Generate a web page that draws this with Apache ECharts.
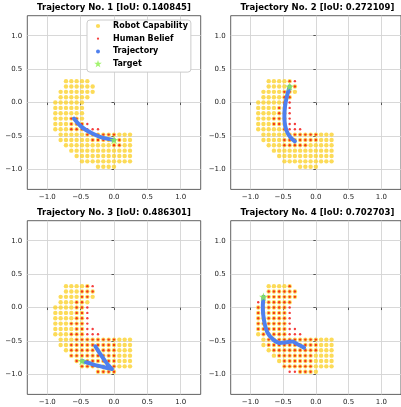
<!DOCTYPE html>
<html>
<head>
<meta charset="utf-8">
<script src="https://cdn.jsdelivr.net/npm/echarts@6/dist/echarts.min.js"></script>
<style>
html, body { margin: 0; padding: 0; background: #fff; }
#main { width: 401px; height: 407px; }
</style>
</head>
<body>
<div id="main"></div>
<script>
// grid of sampled cells: first column x, first row y, spacing
var cellX0 = -0.88, cellY0 = 0.32, cellStep = 0.08;
var tickVals = [-1, -0.5, 0, 0.5, 1];
var titles = [
    'Trajectory No. 1 [IoU: 0.140845]',
    'Trajectory No. 2 [IoU: 0.272109]',
    'Trajectory No. 3 [IoU: 0.486301]',
    'Trajectory No. 4 [IoU: 0.702703]'
];

// robot capability, same for all plots (rows top->bottom, '#' = point)
var robotRows = [
    '..#####........',
    '..######.......',
    '.#######.......',
    '.######........',
    '######.........',
    '######.........',
    '######.........',
    '######.........',
    '######.........',
    '######.........',
    '.##############',
    '.##############',
    '..#############',
    '...############',
    '....###########',
    '.....##########',
    '........####...'
];

// human belief for each trajectory
var beliefRows1 = [
    '...............',
    '...............',
    '...............',
    '...............',
    '...............',
    '...............',
    '...............',
    '...##..........',
    '...####........',
    '...######......',
    '......######...',
    '.......######..',
    '...........##..'
];
var beliefRows2 = [
    '......##.......',
    '......##.......',
    '.....##........',
    '.....##........',
    '.....##........',
    '....###........',
    '....###........',
    '...####........',
    '...#####.......',
    '.....####......',
    '......######...',
    '.....#######...',
    '.....#####.....'
];
var beliefRows3 = [
    '......##.......',
    '.....###.......',
    '.....##........',
    '....##.........',
    '....###........',
    '....###........',
    '....###........',
    '...####........',
    '....####.......',
    '...######......',
    '....########...',
    '...#########...',
    '...#########...',
    '...#########...',
    '....########...',
    '.....#######...',
    '........####...'
];
var beliefRows4 = [
    '......#........',
    '..######.......',
    '.#######.......',
    '#######........',
    '#######........',
    '#######........',
    '#######........',
    '#######........',
    '########.......',
    '.########......',
    '..##########...',
    '..##########...',
    '...#########...',
    '....#######....',
    '.....######....',
    '.....######....',
    '......#####....'
];

var trajectory1 = [[-0.60, -0.24], [-0.55, -0.30], [-0.49, -0.36], [-0.42, -0.41], [-0.33, -0.46], [-0.22, -0.51], [-0.11, -0.54], [0.0, -0.56]];
var trajectory2 = [[-0.40, 0.24], [-0.44, 0.10], [-0.47, -0.05], [-0.48, -0.20], [-0.47, -0.34], [-0.43, -0.46], [-0.38, -0.53], [-0.32, -0.58]];
var trajectory3 = [[-0.28, -0.58], [-0.21, -0.69], [-0.14, -0.79], [-0.07, -0.88], [-0.03, -0.92], [-0.12, -0.90], [-0.25, -0.87], [-0.38, -0.83], [-0.48, -0.80]];
var trajectory4 = [[-0.80, 0.16], [-0.81, 0.0], [-0.79, -0.20], [-0.74, -0.37], [-0.65, -0.48], [-0.55, -0.53], [-0.45, -0.52], [-0.36, -0.51], [-0.28, -0.55], [-0.18, -0.60]];

var targets = [[0.0, -0.56], [-0.40, 0.24], [-0.48, -0.80], [-0.80, 0.16]];

var chart = echarts.init(document.getElementById('main'), null, {renderer: 'canvas'});
var font = 'DejaVu Sans';
var colYellow = '#fbd22e', colRed = '#f20d0d', colBlue = '#4f80ee', colGreen = '#8cf04c';

function maskToPoints(rows) {
    var pts = [];
    for (var j = 0; j < rows.length; j++) {
        for (var k = 0; k < rows[j].length; k++) {
            if (rows[j].charAt(k) === '#') {
                pts.push([+(cellX0 + k * cellStep).toFixed(2), +(cellY0 - j * cellStep).toFixed(2)]);
            }
        }
    }
    return pts;
}
function starPath(cx, cy, R, r) {
    var s = '';
    for (var i = 0; i < 10; i++) {
        var a = -Math.PI / 2 + i * Math.PI / 5;
        var rad = i % 2 === 0 ? R : r;
        s += (i === 0 ? 'M' : 'L') + (cx + rad * Math.cos(a)).toFixed(2) + ',' + (cy + rad * Math.sin(a)).toFixed(2);
    }
    return s + 'Z';
}
// legend icons drawn inside a fixed 40x24 box so each keeps its own size
function dotIcon(r) {
    return 'path://M0,0M40,24M' + (20 - r) + ',12A' + r + ',' + r + ',0,1,1,' + (20 + r) + ',12A' + r + ',' + r + ',0,1,1,' + (20 - r) + ',12Z';
}

var beliefs = [beliefRows1, beliefRows2, beliefRows3, beliefRows4];
var trajectories = [trajectory1, trajectory2, trajectory3, trajectory4];
var robotPts = maskToPoints(robotRows);

var plotLeft = [27.3, 230.7, 27.3, 230.7];
var plotTop = [15.7, 15.7, 220.7, 220.7];
var plotW = 173.4, plotH = 173.7;

var grids = [], xAxes = [], yAxes = [], series = [], titleArr = [];
function fmt(v) {
    var s = Math.abs(v).toFixed(1);
    return v < 0 ? '\u2212' + s : s;
}
for (var i = 0; i < 4; i++) {
    grids.push({
        left: plotLeft[i], top: plotTop[i], width: plotW, height: plotH,
        show: true, borderColor: '#3a3a3a', borderWidth: 0.8, backgroundColor: '#fff'
    });
    titleArr.push({
        text: titles[i], left: plotLeft[i] + plotW / 2, top: plotTop[i] - 12.5,
        textAlign: 'center', padding: 0,
        textStyle: {fontFamily: font, fontSize: 8.5, fontWeight: 'bold', color: '#000'}
    });
    var axisBase = {
        gridIndex: i, type: 'value', min: -1.3, max: 1.3,
        axisLine: {show: false},
        axisTick: {show: true, customValues: tickVals, length: 2.5, lineStyle: {color: '#333', width: 0.8}},
        axisLabel: {customValues: tickVals, formatter: fmt, fontFamily: font, fontSize: 7, color: '#222'},
        splitLine: {show: true, lineStyle: {color: '#d4d4d4', width: 0.9}}
    };
    var xa = echarts.util.merge({}, axisBase, true);
    xa.axisLabel.margin = 4.5;
    xa.axisTick.customValues = tickVals;
    xa.axisLabel.customValues = tickVals;
    xAxes.push(xa);
    var ya = echarts.util.merge({}, axisBase, true);
    ya.axisLabel.margin = 5;
    ya.axisTick.customValues = tickVals;
    ya.axisLabel.customValues = tickVals;
    yAxes.push(ya);

    series.push({
        name: 'Robot Capability', type: 'scatter', xAxisIndex: i, yAxisIndex: i,
        data: robotPts, symbol: 'circle', symbolSize: 4.4, silent: true, z: 2,
        itemStyle: {color: colYellow}
    });
    series.push({
        name: 'Human Belief', type: 'scatter', xAxisIndex: i, yAxisIndex: i,
        data: maskToPoints(beliefs[i]), symbol: 'circle', symbolSize: 2.4, silent: true, z: 3,
        itemStyle: {color: colRed}
    });
    series.push({
        name: 'Trajectory', type: 'line', xAxisIndex: i, yAxisIndex: i,
        data: trajectories[i], showSymbol: false, smooth: 0.25, silent: true, z: 4,
        itemStyle: {color: colBlue},
        lineStyle: {color: colBlue, width: 4, cap: 'round', join: 'round'}
    });
    series.push({
        name: 'Target', type: 'scatter', xAxisIndex: i, yAxisIndex: i,
        data: [targets[i]], symbol: 'path://' + starPath(10, 10, 10, 3.8), symbolKeepAspect: true,
        symbolSize: 9, silent: true, z: 10, itemStyle: {color: colGreen}
    });
}

var option = {
    animation: false,
    backgroundColor: '#fff',
    title: titleArr,
    grid: grids,
    xAxis: xAxes,
    yAxis: yAxes,
    legend: {
        left: 87, top: 20, orient: 'vertical',
        itemWidth: 20, itemHeight: 12, itemGap: 0.7,
        padding: [0, 3, 2, 1],
        backgroundColor: '#fff', borderColor: '#cccccc', borderWidth: 1, borderRadius: 3,
        selectedMode: false,
        textStyle: {fontFamily: font, fontSize: 8, fontWeight: 'bold', color: '#000'},
        data: [
            {name: 'Robot Capability', icon: dotIcon(4.2)},
            {name: 'Human Belief', icon: dotIcon(2.2)},
            {name: 'Trajectory', icon: dotIcon(4), itemStyle: {borderWidth: 0}},
            {name: 'Target', icon: 'path://M0,0M40,24' + starPath(20, 12, 8, 3.1)}
        ]
    },
    series: series
};
chart.setOption(option);
</script>
</body>
</html>
